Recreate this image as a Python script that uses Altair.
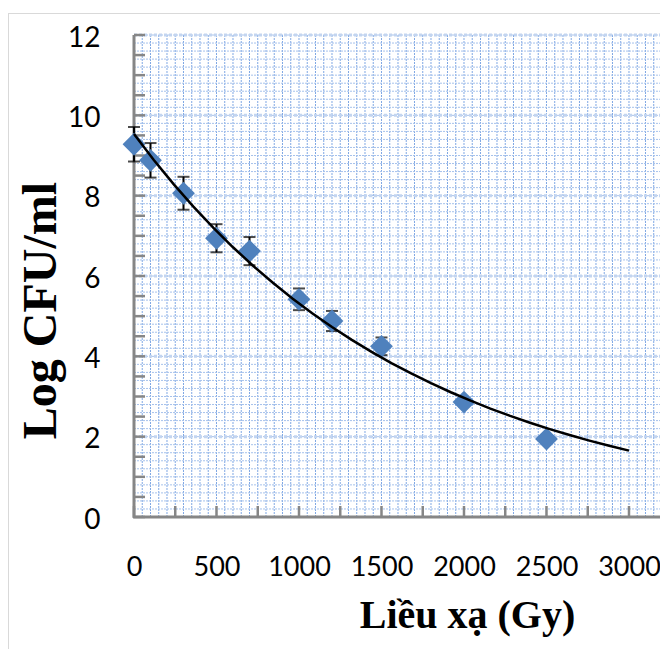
import altair as alt
import pandas as pd

# ---- data ----
dose = [0, 100, 300, 500, 700, 1000, 1200, 1500, 2000, 2500]
log_cfu = [9.28, 8.88, 8.06, 6.94, 6.62, 5.42, 4.88, 4.25, 2.86, 1.94]
err = [0.43, 0.43, 0.41, 0.35, 0.35, 0.27, 0.25, 0.22, 0.10, 0.08]

x_labels = [0, 500, 1000, 1500, 2000, 2500, 3000]
y_labels = [0, 2, 4, 6, 8, 10, 12]
x_ticks = [0, 250, 500, 750, 1000, 1250, 1500, 1750, 2000, 2250, 2500, 2750, 3000]
y_ticks = [i * 0.5 for i in range(25)]
x_grid = [i * 50 for i in range(64)]
y_grid = [round(i * 0.2, 1) for i in range(61)]
y_major_grid = [2, 4, 6, 8, 10, 12]

W, H = 526, 482
XMAX = 3188

df = pd.DataFrame({"x": dose, "y": log_cfu, "e": err})
df["lo"] = df["y"] - df["e"]
df["hi"] = df["y"] + df["e"]

xs = alt.Scale(domain=[0, XMAX], nice=False, zero=False)
ys = alt.Scale(domain=[0, 12], nice=False)

X_AX = alt.Axis(
    values=x_labels,
    format="d",
    ticks=False,
    tickSize=0,
    domain=False,
    grid=False,
    labelFont="Lato",
    labelFontSize=27,
    labelColor="black",
    labelPadding=58,
    labelBaseline="alphabetic",
    labelFlush=False,
    labelOverlap=False,
    title="Liều xạ (Gy)",
    titleFont="Liberation Serif",
    titleFontSize=40,
    titleFontWeight="bold",
    titleColor="black",
    titleX=333,
    titleY=110,
    titleAlign="center",
    titleBaseline="alphabetic",
)
Y_AX = alt.Axis(
    values=y_labels,
    format="d",
    ticks=False,
    tickSize=0,
    domain=False,
    grid=False,
    labelFont="Lato",
    labelFontSize=28,
    labelColor="black",
    labelPadding=34,
    labelOffset=3,
    labelBaseline="middle",
    labelFlush=False,
    labelOverlap=False,
    title="Log CFU/ml",
    titleFont="Liberation Serif",
    titleFontSize=48,
    titleFontWeight="bold",
    titleColor="black",
    titleAngle=270,
    titleX=-79,
    titleY=275,
    titleAlign="center",
    titleBaseline="alphabetic",
)


def X(f):
    return alt.X(f, scale=xs, axis=X_AX)


def Y(f):
    return alt.Y(f, scale=ys, axis=Y_AX)


xgrid = alt.Chart(pd.DataFrame({"x": x_grid})).mark_rule(
    color="#80a8e4", strokeWidth=1, strokeDash=[2, 1]
).encode(x=X("x:Q"), y=alt.value(0), y2=alt.value(H))

ygrid = alt.Chart(pd.DataFrame({"y": y_grid})).mark_rule(
    color="#a6c2ec", strokeWidth=1, strokeDash=[2, 1]
).encode(y=Y("y:Q"), x=alt.value(0), x2=alt.value(W))

ymajor = alt.Chart(pd.DataFrame({"y": y_major_grid})).mark_rule(
    color="#c3d5f0", strokeWidth=3, strokeDash=[3, 2]
).encode(y=Y("y:Q"), x=alt.value(0), x2=alt.value(W))

AX_C = "#868686"
ytick_marks = alt.Chart(pd.DataFrame({"y": y_ticks})).mark_rule(
    color=AX_C, strokeWidth=2.5
).encode(y=Y("y:Q"), x=alt.value(0), x2=alt.value(11))

xtick_marks = alt.Chart(pd.DataFrame({"x": x_ticks})).mark_rule(
    color=AX_C, strokeWidth=2.5
).encode(x=X("x:Q"), y=alt.value(H - 11), y2=alt.value(H))

one = pd.DataFrame({"a": [0]})
ydomain = alt.Chart(one).mark_rule(color=AX_C, strokeWidth=3).encode(
    x=alt.value(0), y=alt.value(0), y2=alt.value(H + 1)
)
xdomain = alt.Chart(one).mark_rule(color=AX_C, strokeWidth=3).encode(
    x=alt.value(-1), x2=alt.value(W), y=alt.value(H)
)
border_l = alt.Chart(one).mark_rule(color="#d9d9d9", strokeWidth=1).encode(
    x=alt.value(-125.5), y=alt.value(-22), y2=alt.value(H + 132)
)
border_t = alt.Chart(one).mark_rule(color="#d9d9d9", strokeWidth=1).encode(
    x=alt.value(-126), x2=alt.value(W), y=alt.value(-21.5)
)

base = alt.Chart(df)

ebars = base.mark_rule(color="black", strokeWidth=2).encode(
    x=X("x:Q"), y=Y("lo:Q"), y2="hi:Q"
)
cap_hi = base.mark_tick(orient="horizontal", size=12, thickness=2, color="black").encode(
    x=X("x:Q"), y=Y("hi:Q")
)
cap_lo = base.mark_tick(orient="horizontal", size=12, thickness=2, color="black").encode(
    x=X("x:Q"), y=Y("lo:Q")
)

points = base.mark_point(
    shape="diamond", size=520, filled=True, color="#4F81BD", opacity=1
).encode(x=X("x:Q"), y=Y("y:Q"))

curve = base.transform_regression(
    "x", "y", method="exp", extent=[0, 3000]
).mark_line(color="black", strokeWidth=2.5).encode(x=X("x:Q"), y=Y("y:Q"))

chart = alt.layer(
    xgrid, ygrid, ymajor, xtick_marks, ytick_marks, xdomain, ydomain,
    border_l, border_t,
    ebars, cap_hi, cap_lo, points, curve,
).properties(
    width=W,
    height=H,
    autosize=alt.AutoSizeParams(type="none"),
    padding={"left": 126, "top": 27, "right": 0, "bottom": 132},
    background="white",
).configure_view(stroke=None)

chart.save("out.html", embed_options={"renderer": "svg", "actions": False})
